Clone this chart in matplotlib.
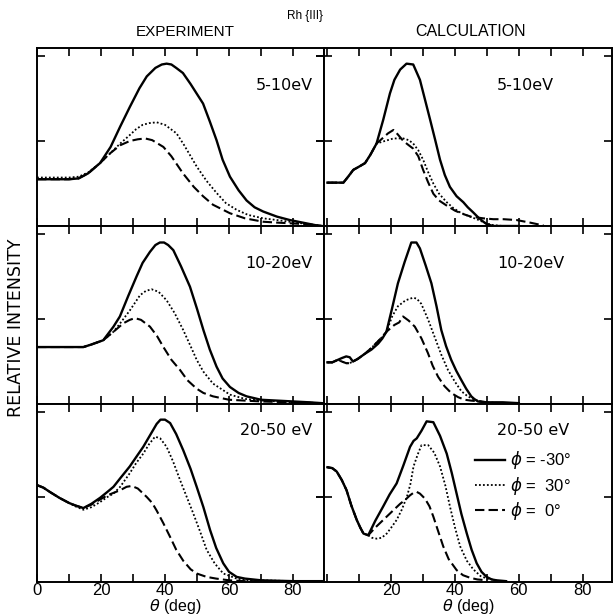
import matplotlib
import matplotlib.pyplot as plt

matplotlib.use('Agg')
plt.rcParams['font.family'] = ['Liberation Sans', 'DejaVu Sans']

# ---- data (theta in deg, relative intensity) ----
# EXPERIMENT, 5-10 eV
exp1_solid_t = [0, 5, 10, 13, 16, 19.7, 23, 26, 29, 32, 34.3, 37, 39, 40.5, 42, 43.5, 45.6, 48, 51.9, 54, 56.1,
                58, 60.3, 63, 65.5, 68, 70.7, 75, 79, 83, 87, 89]
exp1_solid_i = [0.55, 0.55, 0.55, 0.56, 0.62, 0.74, 0.93, 1.17, 1.40, 1.62, 1.76, 1.86, 1.90, 1.91, 1.90, 1.86,
                1.80, 1.67, 1.44, 1.23, 1.01, 0.78, 0.58, 0.42, 0.30, 0.22, 0.17, 0.11, 0.07, 0.04, 0.01, 0.0]
exp1_dot_t = [0, 5, 10, 13, 16, 19.7, 23, 26, 29, 31, 33, 35, 37.4, 40, 43.6, 46, 49.9, 53, 56.1, 59, 62.4, 66,
              70.7, 75, 79, 83, 87, 89]
exp1_dot_i = [0.57, 0.57, 0.57, 0.58, 0.63, 0.74, 0.86, 0.97, 1.07, 1.14, 1.19, 1.21, 1.22, 1.19, 1.09, 0.95,
              0.70, 0.53, 0.39, 0.27, 0.19, 0.13, 0.09, 0.07, 0.05, 0.03, 0.01, 0.0]
exp1_dash_t = [0, 5, 10, 13, 16, 19.7, 23, 26, 29, 31.5, 33.8, 36, 39.5, 42, 45.6, 49, 51.9, 55, 60.3, 65,
               70.7, 75, 80, 85, 89]
exp1_dash_i = [0.55, 0.55, 0.55, 0.56, 0.62, 0.74, 0.86, 0.95, 1.00, 1.02, 1.03, 1.01, 0.93, 0.82, 0.62, 0.46,
               0.35, 0.25, 0.15, 0.09, 0.05, 0.04, 0.03, 0.02, 0.0]

# EXPERIMENT, 10-20 eV
exp2_solid_t = [0, 5, 10, 14.5, 17, 20.7, 23.9, 25.9, 28.5, 31.1, 33, 35.3, 37, 38.4, 39.7, 41, 42.6, 45, 47.8,
                50, 52, 54, 56.1, 58, 60.3, 63, 65.5, 70, 75, 80, 85, 89]
exp2_solid_i = [0.67, 0.67, 0.67, 0.67, 0.70, 0.75, 0.91, 1.03, 1.27, 1.50, 1.66, 1.79, 1.87, 1.90, 1.90, 1.87,
                1.81, 1.62, 1.38, 1.12, 0.87, 0.64, 0.44, 0.30, 0.20, 0.13, 0.09, 0.05, 0.04, 0.03, 0.02, 0.01]
exp2_dot_t = [0, 5, 10, 14.5, 17, 20.7, 23.9, 26, 29, 32.2, 34, 35.8, 38, 40.5, 43, 45.7, 48, 49.9, 52, 55,
              60.3, 65, 70, 75, 80, 89]
exp2_dot_i = [0.67, 0.67, 0.67, 0.67, 0.70, 0.75, 0.85, 0.95, 1.10, 1.28, 1.33, 1.35, 1.32, 1.22, 1.07, 0.87,
              0.68, 0.52, 0.38, 0.24, 0.11, 0.06, 0.04, 0.03, 0.02, 0.01]
exp2_dash_t = [0, 5, 10, 14.5, 17, 20.7, 23.9, 27, 29, 30.6, 32.5, 35.3, 37.5, 39.5, 42, 44.7, 47, 49.9, 52, 55,
               60, 65, 70, 80, 89]
exp2_dash_i = [0.67, 0.67, 0.67, 0.67, 0.70, 0.75, 0.85, 0.95, 0.99, 1.01, 0.99, 0.91, 0.80, 0.67, 0.52, 0.40,
               0.28, 0.18, 0.13, 0.09, 0.05, 0.04, 0.03, 0.02, 0.01]

# EXPERIMENT, 20-50 eV
exp3_solid_t = [0, 2, 4, 7, 10, 12, 14.5, 17, 19.7, 22, 23.9, 26, 29, 31, 33.2, 36, 37.4, 38.6, 40, 41.6, 43.5,
                45.7, 48, 49.9, 52, 54.1, 56, 58.2, 60, 62.4, 65, 70, 80, 89]
exp3_solid_i = [1.14, 1.11, 1.06, 0.99, 0.93, 0.90, 0.87, 0.92, 0.99, 1.06, 1.12, 1.22, 1.36, 1.47, 1.59, 1.77,
                1.86, 1.91, 1.91, 1.87, 1.74, 1.55, 1.33, 1.12, 0.88, 0.61, 0.40, 0.22, 0.12, 0.06, 0.04, 0.02,
                0.01, 0.01]
exp3_dot_t = [0, 2, 4, 7, 10, 12, 14.5, 17, 19.7, 22, 23.9, 26, 29, 31, 33.2, 35, 36.9, 38.5, 40.5, 42.5, 44.7,
              46.8, 48.8, 51, 53, 55.5, 58.2, 62.4, 66, 70, 80, 89]
exp3_dot_i = [1.14, 1.11, 1.06, 0.99, 0.93, 0.89, 0.85, 0.88, 0.94, 1.00, 1.04, 1.12, 1.28, 1.40, 1.51, 1.62,
              1.71, 1.69, 1.59, 1.42, 1.20, 1.00, 0.81, 0.59, 0.38, 0.22, 0.10, 0.04, 0.02, 0.02, 0.01, 0.01]
exp3_dash_t = [0, 2, 4, 7, 10, 12, 14.5, 17, 19.7, 22, 24, 26, 28, 29.6, 31.5, 34.3, 36, 37.4, 39.5, 41.6, 43.5,
               45.7, 48, 49.9, 53, 56, 60, 65, 70, 80, 89]
exp3_dash_i = [1.14, 1.11, 1.06, 0.99, 0.93, 0.90, 0.87, 0.91, 0.97, 1.02, 1.05, 1.08, 1.12, 1.13, 1.10, 1.00,
               0.93, 0.84, 0.69, 0.53, 0.38, 0.25, 0.15, 0.10, 0.06, 0.04, 0.02, 0.01, 0.01, 0.01, 0.0]

# CALCULATION, 5-10 eV
calc1_solid_t = [0, 3, 5, 6.5, 8.1, 10, 11.8, 13.5, 15.4, 17.5, 19.6, 21, 22.8, 24.8, 26.9, 29, 30.5, 32.2,
                 33.8, 35.3, 36.8, 38.4, 40.5, 42.6, 44, 45.7, 47.3, 48.9, 50, 52, 60]
calc1_solid_i = [0.51, 0.51, 0.51, 0.58, 0.66, 0.70, 0.74, 0.84, 0.97, 1.25, 1.56, 1.72, 1.84, 1.91, 1.90, 1.72,
                 1.50, 1.25, 1.01, 0.78, 0.60, 0.46, 0.35, 0.28, 0.22, 0.16, 0.10, 0.05, 0.02, 0.0, 0.0]
calc1_dot_t = [0, 3, 5, 6.5, 8.1, 10, 11.8, 13.5, 15.4, 18, 20.7, 23.8, 25.5, 26.9, 28.5, 30, 31.5, 33.2, 35,
               37.4, 39.5, 41.6, 44, 46.8, 49.9, 52, 55]
calc1_dot_i = [0.51, 0.51, 0.51, 0.58, 0.66, 0.70, 0.74, 0.84, 0.97, 1.00, 1.03, 1.03, 1.01, 0.97, 0.89, 0.78,
               0.64, 0.50, 0.38, 0.28, 0.21, 0.16, 0.12, 0.08, 0.03, 0.01, 0.0]
calc1_dash_t = [0, 3, 5, 6.5, 8.1, 10, 11.8, 13.5, 15.4, 17.5, 19, 20.7, 22, 23.8, 25.5, 26.9, 28.5, 30, 31.5,
                33.2, 35, 37.4, 40, 42.6, 45, 48.9, 52, 55.2, 59.3, 63.5, 66, 67.7]
calc1_dash_i = [0.51, 0.51, 0.51, 0.58, 0.66, 0.70, 0.74, 0.84, 0.97, 1.04, 1.09, 1.13, 1.08, 1.00, 0.95, 0.91,
                0.82, 0.66, 0.52, 0.38, 0.30, 0.24, 0.18, 0.14, 0.11, 0.09, 0.08, 0.08, 0.07, 0.04, 0.02, 0.01]

# CALCULATION, 10-20 eV
calc2_solid_t = [0, 1.5, 3.3, 4.5, 5.9, 7, 8, 9.5, 11.7, 13.8, 15.9, 17.2, 18.5, 20.3, 22.1, 24.2, 26.3, 27.9, 29,
                 30.8, 32.6, 34.2, 35.7, 37.2, 38.8, 40.4, 42, 43.5, 45.1, 46, 47.2, 50, 55, 60]
calc2_solid_i = [0.49, 0.49, 0.52, 0.54, 0.56, 0.55, 0.50, 0.53, 0.59, 0.64, 0.71, 0.77, 0.85, 1.13, 1.42, 1.67,
                 1.90, 1.90, 1.83, 1.63, 1.42, 1.15, 0.87, 0.68, 0.52, 0.39, 0.28, 0.18, 0.09, 0.06, 0.03, 0.02,
                 0.02, 0.01]
calc2_dot_t = [0, 1.5, 3.3, 4.5, 5.9, 7, 8, 9.5, 11.7, 13.8, 15.9, 17.2, 18.5, 20.3, 22.1, 24.5, 26.8, 28, 29.4,
               31.5, 33.6, 35.7, 37.8, 40, 42, 44, 46.2, 48, 50, 55]
calc2_dot_i = [0.49, 0.49, 0.52, 0.50, 0.48, 0.48, 0.50, 0.53, 0.59, 0.66, 0.74, 0.79, 0.85, 1.03, 1.15, 1.22,
               1.25, 1.24, 1.18, 1.00, 0.79, 0.58, 0.40, 0.26, 0.15, 0.09, 0.05, 0.03, 0.02, 0.01]
calc2_dash_t = [0, 1.5, 3.3, 4.5, 5.9, 7, 8, 9.5, 11.7, 13.8, 15.9, 17.2, 18.5, 21, 22.5, 23.7, 25.5, 27.4, 29.5,
                31.5, 33, 34.7, 36.7, 38.8, 41, 43, 45, 48, 50]
calc2_dash_i = [0.49, 0.49, 0.52, 0.50, 0.48, 0.48, 0.50, 0.53, 0.59, 0.66, 0.74, 0.79, 0.85, 0.93, 0.96, 1.03,
                0.98, 0.91, 0.77, 0.60, 0.45, 0.32, 0.21, 0.13, 0.08, 0.05, 0.04, 0.03, 0.02]

# CALCULATION, 20-50 eV
calc3_solid_t = [0, 1.5, 2.9, 4.5, 6, 7.5, 9.2, 10.3, 11.3, 12.8, 15, 17.5, 19.5, 21.7, 23.8, 25.9, 27, 28, 29.5,
                 31.1, 33.2, 35.3, 37.4, 39, 40.5, 42, 43.7, 45.2, 46.8, 48.3, 49.9, 51.5, 53, 56]
calc3_solid_i = [1.35, 1.34, 1.30, 1.20, 1.08, 0.90, 0.73, 0.64, 0.57, 0.55, 0.72, 0.89, 1.03, 1.16, 1.37, 1.59,
                 1.66, 1.69, 1.78, 1.89, 1.88, 1.72, 1.51, 1.28, 1.04, 0.80, 0.57, 0.38, 0.22, 0.12, 0.06, 0.03,
                 0.02, 0.01]
calc3_dot_t = [0, 1.5, 2.9, 4.5, 6, 7.5, 9.2, 10.3, 11.3, 12.8, 14, 15.4, 17, 18.6, 20, 21.7, 23.3, 24.9, 26, 27,
               28.3, 29.5, 31.6, 33.5, 35.3, 37, 38.4, 40, 41.6, 43.7, 45.7, 48, 50, 53]
calc3_dot_i = [1.35, 1.34, 1.30, 1.20, 1.08, 0.90, 0.73, 0.64, 0.57, 0.55, 0.52, 0.51, 0.52, 0.57, 0.64, 0.73,
               0.85, 1.00, 1.15, 1.36, 1.50, 1.61, 1.61, 1.52, 1.36, 1.13, 0.89, 0.64, 0.42, 0.25, 0.15, 0.07,
               0.04, 0.02]
calc3_dash_t = [0, 1.5, 2.9, 4.5, 6, 7.5, 9.2, 10.3, 11.3, 12.8, 15, 17.5, 20, 22.8, 24.5, 25.9, 27, 28, 29, 30.6,
                32, 33.2, 34.7, 36.3, 38, 40.5, 42.5, 44.7, 47, 50]
calc3_dash_i = [1.35, 1.34, 1.30, 1.20, 1.08, 0.90, 0.73, 0.64, 0.57, 0.55, 0.64, 0.73, 0.82, 0.92, 0.97, 1.02,
                1.05, 1.06, 1.04, 0.98, 0.89, 0.77, 0.60, 0.42, 0.27, 0.14, 0.08, 0.05, 0.03, 0.02]

energy_labels = ['5-10eV', '10-20eV', '20-50 eV']
legend_labels = [r'$\phi$ = -30°', r'$\phi$ =  30°', r'$\phi$ =  0°']

# (t, i) per panel: rows = energies, columns = experiment / calculation
panels = [
    [[(exp1_solid_t, exp1_solid_i), (exp1_dot_t, exp1_dot_i), (exp1_dash_t, exp1_dash_i)],
     [(calc1_solid_t, calc1_solid_i), (calc1_dot_t, calc1_dot_i), (calc1_dash_t, calc1_dash_i)]],
    [[(exp2_solid_t, exp2_solid_i), (exp2_dot_t, exp2_dot_i), (exp2_dash_t, exp2_dash_i)],
     [(calc2_solid_t, calc2_solid_i), (calc2_dot_t, calc2_dot_i), (calc2_dash_t, calc2_dash_i)]],
    [[(exp3_solid_t, exp3_solid_i), (exp3_dot_t, exp3_dot_i), (exp3_dash_t, exp3_dash_i)],
     [(calc3_solid_t, calc3_solid_i), (calc3_dot_t, calc3_dot_i), (calc3_dash_t, calc3_dash_i)]],
]

# line styles for phi = -30, 30, 0
styles = [dict(ls='-', lw=1.7), dict(ls=(0, (1, 1.2)), lw=1.3), dict(ls=(0, (4.5, 2)), lw=1.5)]

W, H = 613, 616
fig = plt.figure(figsize=(W / 100, H / 100), dpi=100)

# pixel layout of the grid
row_h = 178
top = 48
col_x = [37, 324]
col_w = [287, 288]
xlims = [(0, 287 / 3.2), (-1.07, -1.07 + 288 / 3.19)]

for r in range(3):
    for c in range(2):
        y0 = (H - top - row_h * (r + 1)) / H
        ax = fig.add_axes([col_x[c] / W, y0, col_w[c] / W, row_h / H])
        lines = []
        for (t, i), st in zip(panels[r][c], styles):
            ln, = ax.plot(t, i, color='black', **st)
            lines.append(ln)
        ax.set_xlim(*xlims[c])
        ax.set_ylim(0, row_h / 85)
        ax.set_xticks(range(0, 90, 10))
        ax.set_yticks([1, 2])
        ax.set_yticklabels([])
        for s in ax.spines.values():
            s.set_linewidth(1.4)
        ax.tick_params(direction='in', top=True, right=True, length=6, width=1.2,
                       labelsize=12, pad=0.5)
        if c == 1:
            ax.tick_params(axis='y', which='both', left=True, direction='inout', length=12)
        if r == 2:
            if c == 0:
                ax.set_xticklabels(['0', '', '20', '', '40', '', '60', '', '80'])
            else:
                ax.set_xticklabels(['', '', '20', '', '40', '', '60', '', '80'])
        else:
            ax.set_xticklabels([])

        # energy range label
        ey = 0.79 if r < 2 else 0.85
        if c == 0:
            ax.text(0.96, ey, energy_labels[r], transform=ax.transAxes, family='DejaVu Sans',
                    ha='right', va='center', fontsize=11.5)
        else:
            ax.text(0.60, ey, energy_labels[r], transform=ax.transAxes, family='DejaVu Sans',
                    ha='left', va='center', fontsize=11.5)

        if r == 2 and c == 1:
            ax.legend(lines, legend_labels, loc='upper left', bbox_to_anchor=(0.524, 0.745),
                      frameon=False, fontsize=12, handlelength=1.8, handletextpad=0.3,
                      labelspacing=0.2, borderpad=0, borderaxespad=0)

# x axis labels under the bottom row
fig.text(175 / W, 1 - 606 / H, r'$\theta$ (deg)', ha='center', va='center', fontsize=11.5)
fig.text(468 / W, 1 - 606 / H, r'$\theta$ (deg)', ha='center', va='center', fontsize=11.5)

fig.text(185 / W, 1 - 32 / H, 'EXPERIMENT', ha='center', va='center', fontsize=11)
fig.text(470 / W, 1 - 32 / H, 'CALCULATION', ha='center', va='center', fontsize=11.5)
fig.text(305 / W, 1 - 16 / H, 'Rh {III}', ha='center', va='center', fontsize=8.5)
fig.text(16 / W, 1 - 328 / H, 'RELATIVE INTENSITY', rotation=90, ha='center', va='center',
         family='DejaVu Sans', fontsize=12.5)

fig.savefig('out.png', dpi=100)
